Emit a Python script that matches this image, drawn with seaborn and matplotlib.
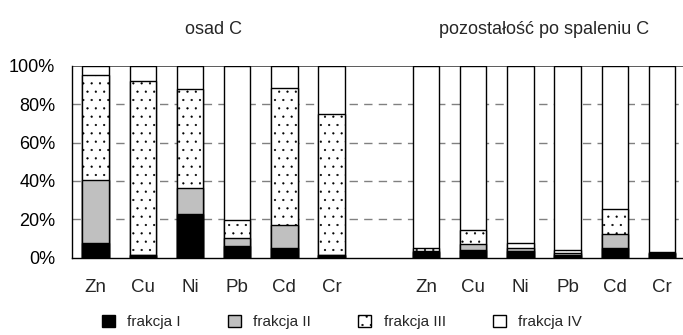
import numpy as np
import pandas as pd
import seaborn as sns
import matplotlib
matplotlib.use("Agg")
import matplotlib.pyplot as plt
from matplotlib.patches import Patch

# --- data: share of each fraction (%) ---
metals = ["Zn", "Cu", "Ni", "Pb", "Cd", "Cr"]
group_titles = ["osad C", "pozostałość po spaleniu C"]
fraction_labels = ["frakcja I", "frakcja II", "frakcja III", "frakcja IV"]

frakcja_I_osad = [7.5, 1.2, 22.7, 6.1, 5.2, 1.2]
frakcja_II_osad = [33.2, 0.3, 13.5, 4.2, 11.8, 0.3]
frakcja_III_osad = [54.6, 90.3, 51.7, 9.3, 71.6, 73.3]
frakcja_IV_osad = [4.7, 8.2, 12.1, 80.4, 11.4, 25.2]

frakcja_I_pop = [2.8, 3.8, 3.3, 1.4, 4.9, 2.2]
frakcja_II_pop = [0.9, 3.2, 1.8, 1.2, 7.4, 0.3]
frakcja_III_pop = [1.4, 7.5, 2.8, 1.2, 12.9, 0.3]
frakcja_IV_pop = [94.9, 85.5, 92.1, 96.2, 74.8, 97.2]

y_ticks = [0, 20, 40, 60, 80, 100]
y_tick_labels = ["0%", "20%", "40%", "60%", "80%", "100%"]

# --- styling ---
sns.set_style("white")
plt.rcParams["font.family"] = ["Liberation Sans", "DejaVu Sans"]
plt.rcParams["hatch.color"] = "#404040"
plt.rcParams["hatch.linewidth"] = 0.35

faces = ["black", "#c0c0c0", "white", "white"]
hatches = [None, None, "..", None]

# --- long table: one row per bar, cumulative tops per fraction ---
keys_osad = [f"osad|{m}" for m in metals]
keys_pop = [f"pop|{m}" for m in metals]
order = keys_osad + ["gap"] + keys_pop

osad = np.array([frakcja_I_osad, frakcja_II_osad, frakcja_III_osad, frakcja_IV_osad])
pop = np.array([frakcja_I_pop, frakcja_II_pop, frakcja_III_pop, frakcja_IV_pop])
cum = np.cumsum(np.hstack([osad, pop]), axis=0)

df = pd.DataFrame({"key": keys_osad + keys_pop})
for i in range(4):
    df[f"top{i}"] = cum[i]
gap_row = pd.DataFrame({"key": ["gap"], **{f"top{i}": [np.nan] for i in range(4)}})
df = pd.concat([df, gap_row], ignore_index=True)

W, H = 683, 335
fig = plt.figure(figsize=(W / 100, H / 100), dpi=100)
ax_left, ax_bottom = 72 / W, (H - 257.7) / H
ax_w, ax_h = 13 * 47.2 / W, 192.0 / H
ax = fig.add_axes([ax_left, ax_bottom, ax_w, ax_h])

# background grid: dashed at 20-80 %, solid at 100 %
for v in [20, 40, 60, 80]:
    ax.axhline(v, color="#808080", lw=1.0, ls=(0, (6, 4.5)), zorder=0)
ax.axhline(100, color="#404040", lw=1.2, zorder=0)

# stacked bars: draw cumulative tops from the highest down
for i in reversed(range(4)):
    sns.barplot(data=df, x="key", y=f"top{i}", order=order, color=faces[i],
                saturation=1, edgecolor="black", linewidth=1.0, width=0.56,
                hatch=hatches[i], errorbar=None, ax=ax, zorder=2)

ax.set_xlim(-0.5, 12.5)
ax.set_ylim(0, 100)
ax.set_xlabel("")
ax.set_ylabel("")

# y axis
ax.set_yticks(y_ticks)
ax.set_yticklabels(y_tick_labels, fontsize=13)
ax.tick_params(axis="y", direction="out", length=4, width=1, pad=8, colors="black")

# x axis: tick marks on category boundaries, labels at centres
ax.set_xticks(np.arange(-0.5, 12.0, 1.0))
ax.set_xticklabels([])
ax.tick_params(axis="x", which="major", direction="out", length=4, width=1, colors="black")
centres = list(range(0, 6)) + list(range(7, 13))
ax.set_xticks(centres, minor=True)
ax.set_xticklabels(metals + metals, minor=True, fontsize=13.5)
ax.tick_params(axis="x", which="minor", length=0, pad=15)

for side in ["top", "right"]:
    ax.spines[side].set_visible(False)
for side in ["left", "bottom"]:
    ax.spines[side].set_color("black")
    ax.spines[side].set_linewidth(1.0)

# group titles
for xc, title in zip([2.5, 9.5], group_titles):
    ax.text(xc, 1.0 + (65.7 - 29) / 192.0, title, transform=ax.get_xaxis_transform(),
            ha="center", va="center", fontsize=13)

# legend
handles = [Patch(facecolor=faces[i], edgecolor="black", hatch=hatches[i], linewidth=1.0)
           for i in range(4)]
fig.legend(handles, fraction_labels, ncol=4, loc="center",
           bbox_to_anchor=(342 / W, 1 - 322 / H), frameon=False, fontsize=11,
           handlelength=0.85, handleheight=0.85, handletextpad=0.8,
           columnspacing=3.1)

fig.savefig("out.png", dpi=100)
